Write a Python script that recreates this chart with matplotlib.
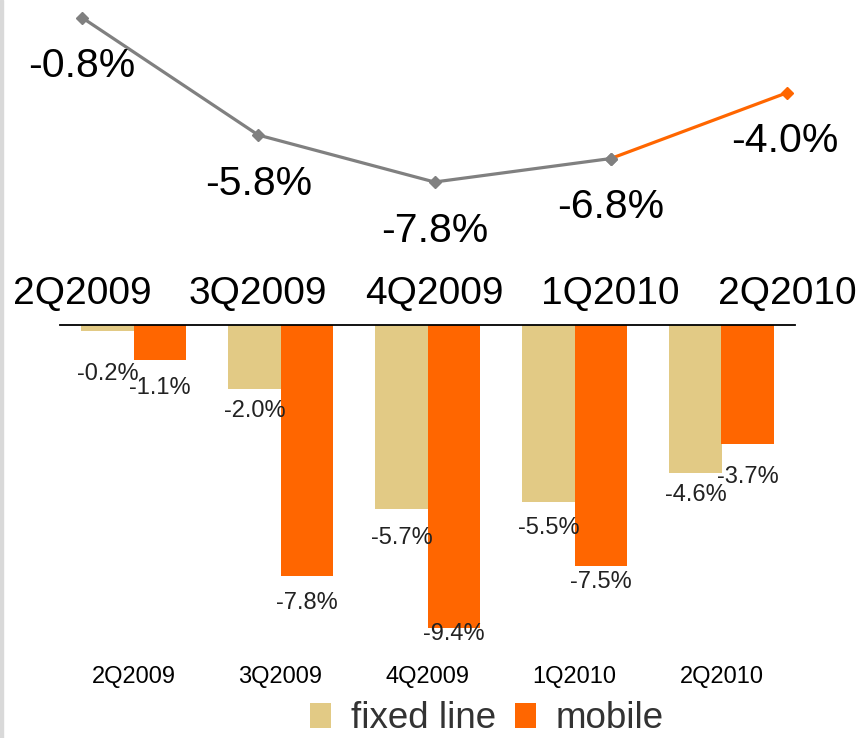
##############################
###########PACKAGES###########
##############################
import numpy as np
import matplotlib
matplotlib.use('Agg')
import matplotlib.pyplot as plt
from matplotlib.patches import Rectangle

plt.rcParams['font.family'] = ['Liberation Sans', 'DejaVu Sans']

#########################
#########  DATA  ########
#########################
quarters = ['2Q2009', '3Q2009', '4Q2009', '1Q2010', '2Q2010']
total = [-0.8, -5.8, -7.8, -6.8, -4.0]      # top line, in %
fixed_line = [-0.2, -2.0, -5.7, -5.5, -4.6]  # bars, in %
mobile = [-1.1, -7.8, -9.4, -7.5, -3.7]

#label drops under each bar end (pixels), as placed in the original
fixed_drop = [49, 28, 35, 32, 28]
mobile_drop = [34, 33, 12, 22, 39]

ORANGE = '#FF6600'
SAND = '#E2CA85'
GREY = '#808080'

W, H = 861, 738
fig = plt.figure(figsize=(W/100, H/100), dpi=100)

#light grey border on the left edge
fig.patches.append(Rectangle((0, 0), 3/W, 1, transform=fig.transFigure,
                             color='#D9D9D9', zorder=0))

####################################
#TOP PART: LINE OF TOTAL (%) CHANGE#
####################################
ax1 = fig.add_axes([82/W, 1 - 262/H, 705/W, 262/H])
x = np.arange(len(quarters))
ax1.plot(x[:4], total[:4], color=GREY, lw=2.3, marker='D', ms=6.5, clip_on=False)
ax1.plot(x[3:], total[3:], color=ORANGE, lw=2.3, clip_on=False)
ax1.plot(x[4:], total[4:], color=ORANGE, marker='D', ms=6.5, ls='none', clip_on=False)
ax1.plot(x[3:4], total[3:4], color=GREY, marker='D', ms=6.5, ls='none', clip_on=False)
ax1.set_xlim(0, 4)
ax1.set_ylim(-11.205, -0.051)
dx = [0, 0, 0, 0, -1.5]
for i, v in enumerate(total):
    ax1.annotate('%.1f%%' % v, (x[i], v), xytext=(dx[i], -43),
                 textcoords='offset points', ha='center', va='baseline',
                 fontsize=29.5, color='black')
ax1.set_xticks(x)
ax1.set_xticklabels(quarters, fontsize=28)
ax1.tick_params(axis='x', length=0, pad=10)
ax1.set_yticks([])
for s in ax1.spines.values():
    s.set_visible(False)
ax1.patch.set_visible(False)

#######################################
#BOTTOM PART: FIXED LINE VS MOBILE BARS#
#######################################
ax2 = fig.add_axes([60/W, 1 - 655/H, 735/W, 330/H])
bw = 0.354
ax2.bar(x - bw/2, fixed_line, width=bw, color=SAND, label='fixed line')
ax2.bar(x + bw/2, mobile, width=bw, color=ORANGE, label='mobile')
ax2.set_xlim(-0.5, 4.5)
ax2.set_ylim(-10.25, 0)
for i in range(len(quarters)):
    ax2.annotate('%.1f%%' % fixed_line[i], (x[i] - bw/2, fixed_line[i]),
                 xytext=(0, -fixed_drop[i]*0.72), textcoords='offset points',
                 ha='center', va='baseline', fontsize=17, color='#222222')
    ax2.annotate('%.1f%%' % mobile[i], (x[i] + bw/2, mobile[i]),
                 xytext=(0, -mobile_drop[i]*0.72), textcoords='offset points',
                 ha='center', va='baseline', fontsize=17, color='#222222')
ax2.set_xticks(x)
ax2.set_xticklabels(quarters, fontsize=17)
ax2.tick_params(axis='x', length=0, pad=8)
ax2.set_yticks([])
for s in ['left', 'right', 'bottom']:
    ax2.spines[s].set_visible(False)
ax2.spines['top'].set_linewidth(1.3)
ax2.spines['top'].set_color('black')
ax2.spines['top'].set_zorder(5)

leg = fig.legend(loc='center', bbox_to_anchor=(487/W, 1 - 719/H), ncol=2,
                 frameon=False, fontsize=26.5, handlelength=0.57, handleheight=0.65,
                 handletextpad=0.54, columnspacing=0.5, borderpad=0)
for t in leg.get_texts():
    t.set_color('#333333')

plt.savefig('out.png', dpi=100)
